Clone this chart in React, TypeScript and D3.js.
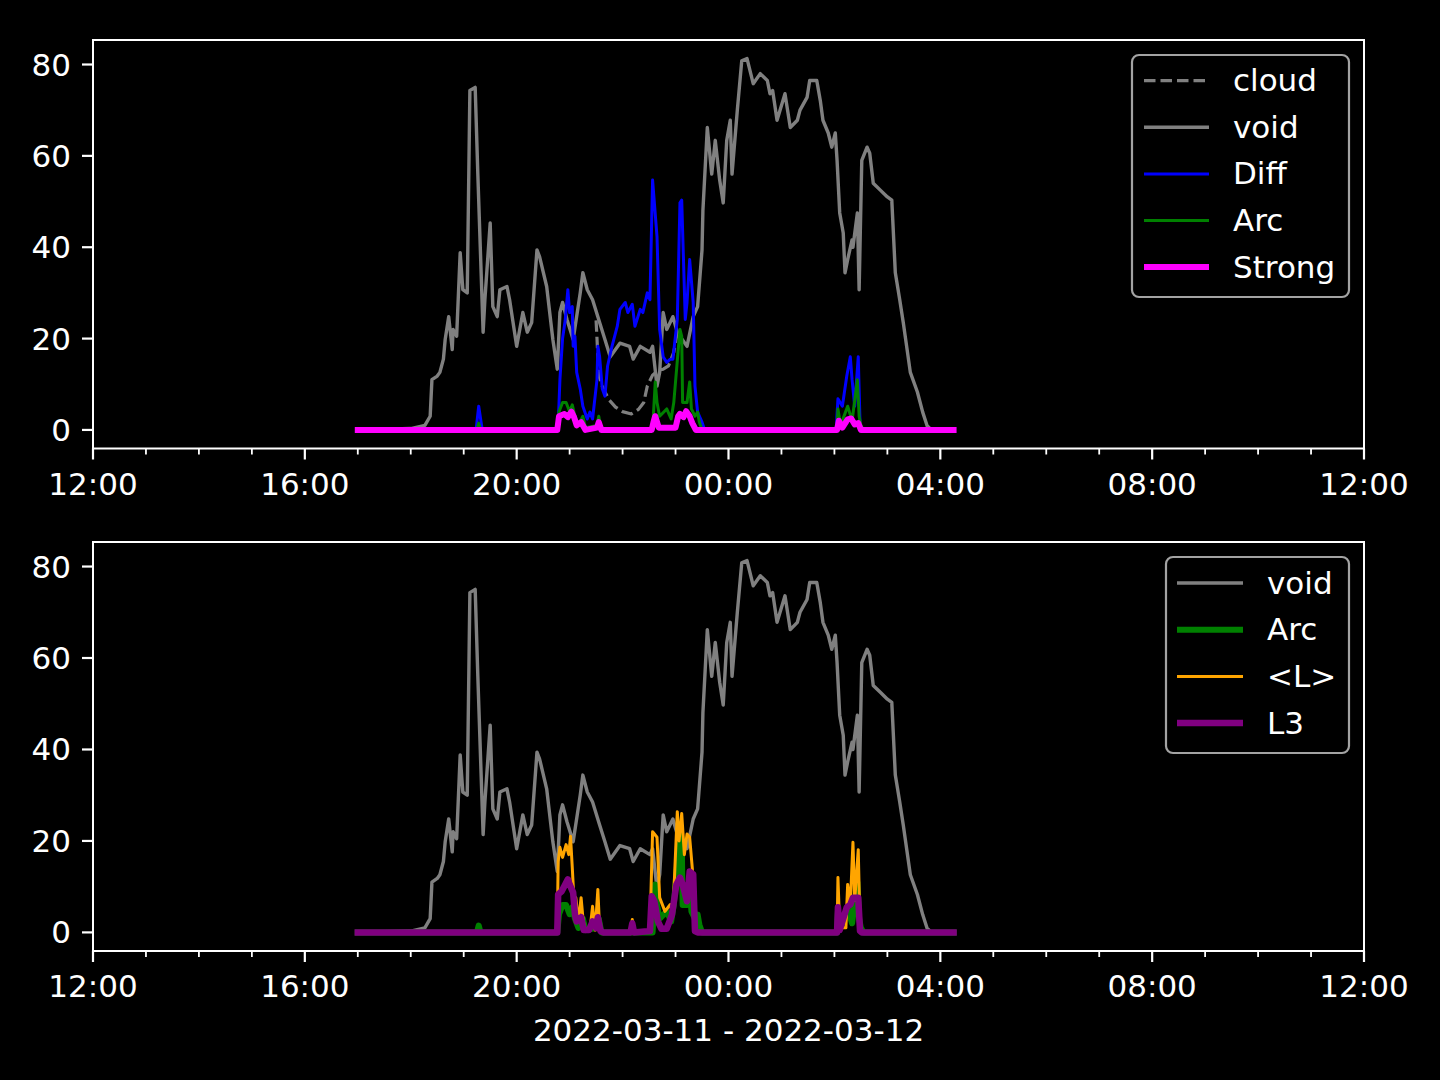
import React from 'react';
import * as d3 from 'd3';

type P = [string, number];

// ---- data (clock time, value); times before 12:00 belong to 2022-03-12 ----
const voidSeries: P[] = [
  ["17:00",0],["18:00",0.3],["18:16",1],["18:22",3],["18:24",11],["18:30",11.8],["18:33",12.6],["18:37",15.5],
  ["18:39",19.8],["18:43",24.8],["18:47",17.6],["18:48",22],["18:52",20.5],["18:56",38.8],["18:59",30.7],["19:04",30],
  ["19:07",74.3],["19:13",75],["19:16",56],["19:22",21.4],["19:24",28.5],["19:30",45.3],["19:33",27],["19:38",24.8],
  ["19:41",30.7],["19:49",31.4],["19:52",28.5],["20:00",18.3],["20:07",25.7],["20:12",21.4],["20:17",23.5],["20:23",39.4],
  ["20:26",37.9],["20:34",31.4],["20:41",19.8],["20:46",13.3],["20:49",25.7],["20:52",27.9],["20:57",24.2],["21:04",19.8],
  ["21:12",30],["21:15",34.4],["21:20",30.7],["21:26",28.5],["21:34",23.5],["21:40",19.8],["21:46",16],["21:57",19],
  ["22:08",18.3],["22:12",15.5],["22:20",18.3],["22:31",17],["22:34",18.3],["22:39",9.6],["22:42",12.6],["22:46",25.7],
  ["22:50",22],["22:57",24.8],["23:02",21.4],["23:13",18.3],["23:20",24.8],["23:25",27],["23:30",39.4],["23:31",48],
  ["23:36",66.2],["23:41",56],["23:45",63.4],["23:50",54.7],["23:54",49.7],["23:58",63.4],["00:02",67.8],["00:04",56],
  ["00:10",70],["00:15",80.8],["00:21",81.3],["00:28",75.8],["00:36",78],["00:44",76.5],["00:47",73.6],["00:50",74.3],
  ["00:55",67.8],["01:04",73.6],["01:10",66.2],["01:18",67.8],["01:21",70],["01:29",72.8],["01:32",76.5],["01:40",76.5],
  ["01:44",72.1],["01:47",67.8],["01:53",65],["01:57",61.9],["02:01",65],["02:03",59],["02:06",47.5],["02:10",43.1],
  ["02:12",34.4],["02:15",37.3],["02:20",41.6],["02:21",40],["02:26",47.5],["02:28",30.7],["02:31",59],["02:37",61.9],
  ["02:40",60.6],["02:44",54],["02:52",52.5],["03:00",51],["03:05",50.3],["03:09",34.4],["03:14",28.5],["03:18",23.5],
  ["03:26",12.6],["03:34",8.3],["03:40",3.9],["03:45",0.9],["03:50",0],["04:15",0],
];

// only the part of "cloud" that departs from "void" is visible
const cloudSeries: P[] = [
  ["21:30",24],["21:33",12],["21:38",9],["21:45",6.5],["21:52",5],["22:00",4],["22:10",3.5],["22:18",4.5],
  ["22:24",6],["22:28",9.6],["22:34",12],["22:40",13],["22:46",13.3],["22:52",14],["22:58",17],["23:02",21.4],
];

const diffSeries: P[] = [
  ["17:00",0],["19:14",0],["19:17",5.2],["19:21",0],["20:45",0],["20:47",1],["20:49",11],["20:52",20],["20:55",24],
  ["20:58",30.7],["21:00",25.7],["21:03",27],["21:04",18.3],["21:06",20.5],["21:08",12.6],["21:12",9],["21:15",5.2],
  ["21:20",2.4],["21:23",3.9],["21:26",2.4],["21:31",11],["21:32",18.3],["21:34",16],["21:37",9],["21:40",7.4],
  ["21:43",14],["21:48",18.3],["21:54",22.7],["21:57",26.4],["22:03",27.9],["22:06",25.7],["22:11",27.5],["22:14",22.7],
  ["22:20",26.4],["22:23",25.7],["22:28",30],["22:31",28.5],["22:34",54.7],["22:39",42.3],["22:42",22],["22:46",16],
  ["22:50",14.8],["22:54",15.5],["22:57",15.5],["23:02",24.2],["23:05",49.7],["23:07",50.3],["23:11",24.2],["23:13",27.9],
  ["23:16",37.3],["23:20",27.9],["23:22",9.6],["23:25",3.9],["23:30",1.7],["23:33",0],["02:02",0],["02:04",6.8],
  ["02:09",5.2],["02:14",11.8],["02:18",16],["02:20",11],["02:23",5.2],["02:27",16],["02:29",1.7],["02:31",0],["04:15",0],
];

const arcSeries: P[] = [
  ["17:00",0],["19:15",0],["19:17",1.5],["19:19",0],["20:46",0],["20:48",4],["20:52",6],["20:56",6],["21:00",4],
  ["21:03",5.5],["21:06",3],["21:10",1],["21:15",3],["21:18",0.5],["21:31",1],["21:33",3],["21:36",0],["22:34",0],
  ["22:37",10.5],["22:39",6],["22:42",3],["22:50",4.6],["22:55",2.4],["22:58",6],["23:05",22],["23:07",20.5],["23:08",6],
  ["23:13",6],["23:16",10.5],["23:18",4.6],["23:22",3],["23:25",3.9],["23:27",1.7],["23:30",0],["02:03",0],["02:04",4.6],
  ["02:07",1],["02:15",5.2],["02:20",2],["02:26",11],["02:28",3],["02:30",1],["02:33",0],["04:15",0],
];

const strongSeries: P[] = [
  ["17:00",0],["20:46",0],["20:48",3],["20:54",3.5],["20:58",2.8],["21:02",4],["21:05",2.8],["21:08",1],["21:13",1.7],
  ["21:18",0],["21:31",0.5],["21:33",1.7],["21:36",0],["22:33",0],["22:35",1.7],["22:37",3],["22:41",0.5],["23:00",0.5],
  ["23:03",3],["23:05",3.5],["23:09",2.8],["23:12",4.1],["23:16",3],["23:19",1.5],["23:23",0],["02:03",0],["02:05",2],
  ["02:09",0.5],["02:15",2.3],["02:19",2.5],["02:23",1.2],["02:27",1.5],["02:30",0],["04:15",0],
];

const lMeanSeries: P[] = [
  ["17:00",0],["20:46",0],["20:47",15.5],["20:49",18.6],["20:52",16.4],["20:56",19.2],["20:59",17],["21:01",21],
  ["21:03",14.2],["21:05",6.8],["21:07",7.6],["21:10",2.4],["21:13",7.6],["21:15",3.3],["21:17",0.5],["21:23",0.5],
  ["21:26",5.7],["21:29",0.5],["21:32",9.4],["21:34",0.5],["21:36",0],["22:10",0],["22:11",2.8],["22:13",0],["22:31",0.5],
  ["22:34",22],["22:39",20.8],["22:42",7.6],["22:48",4.6],["22:54",6.1],["22:57",3.9],["23:02",26.4],["23:04",20],
  ["23:07",26],["23:10",17],["23:13",21.5],["23:16",20.8],["23:19",14],["23:21",3],["23:23",0.5],["23:26",0],["02:03",0],
  ["02:04",12],["02:06",1],["02:13",1],["02:15",10.5],["02:18",6],["02:21",19.7],["02:23",7],["02:27",18.1],["02:29",1],
  ["02:31",0],["04:15",0],
];

const l3Series: P[] = [
  ["17:00",0],["20:46",0],["20:47",8.3],["20:51",9],["20:55",10.5],["20:58",11.6],["21:00",10.5],["21:04",8.7],
  ["21:06",4],["21:08",2.4],["21:13",3.3],["21:16",0.5],["21:22",0.5],["21:26",2.4],["21:30",1],["21:32",3.3],["21:35",0.3],
  ["21:38",0],["22:09",0],["22:11",2],["22:13",0],["22:31",0.3],["22:33",7.9],["22:36",6.8],["22:40",2.4],["22:44",0.8],
  ["22:50",0.8],["22:56",3.9],["23:01",10.5],["23:05",12],["23:08",10.5],["23:13",6.8],["23:16",13.3],["23:20",12.7],
  ["23:22",0.3],["23:25",0],["02:03",0],["02:04",5.5],["02:06",0.5],["02:14",5.5],["02:18",6.1],["02:21",7.6],["02:27",7.6],
  ["02:29",0.3],["02:31",0],["04:15",0],
];

const xDomain: [string, string] = ["12:00 2022-03-11", "12:00 2022-03-12"];
const xTickFormat = "%H:%M";
const xLabel = "2022-03-11 - 2022-03-12";

// ---- helpers ----
function parseT(s: string): Date {
  const [h, m] = s.split(':').map(Number);
  const day = h < 12 ? 12 : 11;
  return new Date(2022, 2, day, h, m);
}
const parseFull = d3.timeParse("%H:%M %Y-%m-%d");

const FONT = '"DejaVu Sans", "Liberation Sans", sans-serif';
const FS = 31;
const W = 1440, H = 1080;
const LEFT = 93, RIGHT = 1364;

type Style = { label: string; data: P[]; color: string; width: number; dash?: string };

const x = d3.scaleTime()
  .domain([parseFull(xDomain[0])!, parseFull(xDomain[1])!])
  .range([LEFT, RIGHT]);

const allVals = [voidSeries, diffSeries, arcSeries, strongSeries].flat().map(d => d[1]);
const [vmin, vmax] = d3.extent(allVals) as [number, number];
const pad = (vmax - vmin) * 0.05;
const yDomain: [number, number] = [vmin - pad, vmax + pad];

function Panel({ top, bottom, series, legend, showXLabel }: {
  top: number; bottom: number; series: Style[];
  legend: { x0: number; y0: number; w: number; h: number; hx0: number; hx1: number; tx: number; r0: number; dy: number; items: Style[] };
  showXLabel?: boolean;
}) {
  const y = d3.scaleLinear().domain(yDomain).range([bottom, top]);
  const line = d3.line<P>().x(d => x(parseT(d[0]))).y(d => y(d[1]));
  const majors = x.ticks(d3.timeHour.every(4)!);
  const minors = x.ticks(d3.timeHour.every(1)!).filter(t => t.getHours() % 4 !== 0);
  const yTicks = y.ticks(5);
  const fmt = d3.timeFormat(xTickFormat);
  return (
    <g>
      <defs>
        <clipPath id={`clip${top}`}>
          <rect x={LEFT} y={top} width={RIGHT - LEFT} height={bottom - top} />
        </clipPath>
      </defs>
      <g clipPath={`url(#clip${top})`}>
        {series.map(s => (
          <path key={s.label} d={line(s.data) || ''} fill="none" stroke={s.color} strokeWidth={s.width}
            strokeDasharray={s.dash} strokeLinejoin="round" strokeLinecap={s.dash ? 'butt' : 'square'} />
        ))}
      </g>
      <rect x={LEFT} y={top} width={RIGHT - LEFT} height={bottom - top} fill="none" stroke="#fff" strokeWidth={2} />
      {majors.map((t, i) => (
        <g key={'M' + i}>
          <line x1={x(t)} x2={x(t)} y1={bottom} y2={bottom + 11} stroke="#fff" strokeWidth={2.2} />
          <text x={x(t)} y={bottom + 46} textAnchor="middle" fill="#fff" fontSize={FS} fontFamily={FONT}>{fmt(t)}</text>
        </g>
      ))}
      {minors.map((t, i) => (
        <line key={'m' + i} x1={x(t)} x2={x(t)} y1={bottom} y2={bottom + 6} stroke="#fff" strokeWidth={1.8} />
      ))}
      {yTicks.map(v => (
        <g key={'y' + v}>
          <line x1={LEFT - 11} x2={LEFT} y1={y(v)} y2={y(v)} stroke="#fff" strokeWidth={2.2} />
          <text x={LEFT - 22} y={y(v) + 11} textAnchor="end" fill="#fff" fontSize={FS} fontFamily={FONT}>{v}</text>
        </g>
      ))}
      <rect x={legend.x0} y={legend.y0} width={legend.w} height={legend.h} rx={7} ry={7}
        fill="#000" stroke="#a3a3a3" strokeWidth={2.2} />
      {legend.items.map((s, i) => {
        const cy = legend.r0 + i * legend.dy;
        return (
          <g key={'lg' + s.label}>
            <line x1={legend.hx0} x2={legend.hx1} y1={cy} y2={cy} stroke={s.color} strokeWidth={s.width}
              strokeDasharray={s.dash} />
            <text x={legend.tx} y={cy + 10.5} fill="#fff" fontSize={FS} fontFamily={FONT}>{s.label}</text>
          </g>
        );
      })}
      {showXLabel && (
        <text x={(LEFT + RIGHT) / 2} y={bottom + 90} textAnchor="middle" fill="#fff" fontSize={FS} fontFamily={FONT}>{xLabel}</text>
      )}
    </g>
  );
}

export default function App() {
  const cloud: Style = { label: 'cloud', data: cloudSeries, color: '#808080', width: 3.2, dash: '11.5,5' };
  const voidS: Style = { label: 'void', data: voidSeries, color: '#808080', width: 3.4 };
  const diff: Style = { label: 'Diff', data: diffSeries, color: '#0000ff', width: 3 };
  const arcThin: Style = { label: 'Arc', data: arcSeries, color: '#008000', width: 3 };
  const strong: Style = { label: 'Strong', data: strongSeries, color: '#ff00ff', width: 6 };
  const arcThick: Style = { label: 'Arc', data: arcSeries, color: '#008000', width: 6 };
  const lMean: Style = { label: '<L>', data: lMeanSeries, color: '#ffa500', width: 3 };
  const l3: Style = { label: 'L3', data: l3Series, color: '#800080', width: 6.5 };

  const top = [cloud, voidS, diff, arcThin, strong];
  const bot = [voidS, arcThick, lMean, l3];
  return (
    <svg width={W} height={H} style={{ position: 'absolute', left: 0, top: 0, background: '#000' }}>
      <rect x={0} y={0} width={W} height={H} fill="#000" />
      <Panel top={40} bottom={448.5} series={top}
        legend={{ x0: 1132, y0: 55, w: 217, h: 242, hx0: 1144, hx1: 1209, tx: 1233, r0: 80.7, dy: 46.6, items: top }} />
      <Panel top={542} bottom={951} series={bot} showXLabel
        legend={{ x0: 1166, y0: 557, w: 183, h: 196, hx0: 1177, hx1: 1243, tx: 1267, r0: 583, dy: 46.7, items: bot }} />
    </svg>
  );
}
